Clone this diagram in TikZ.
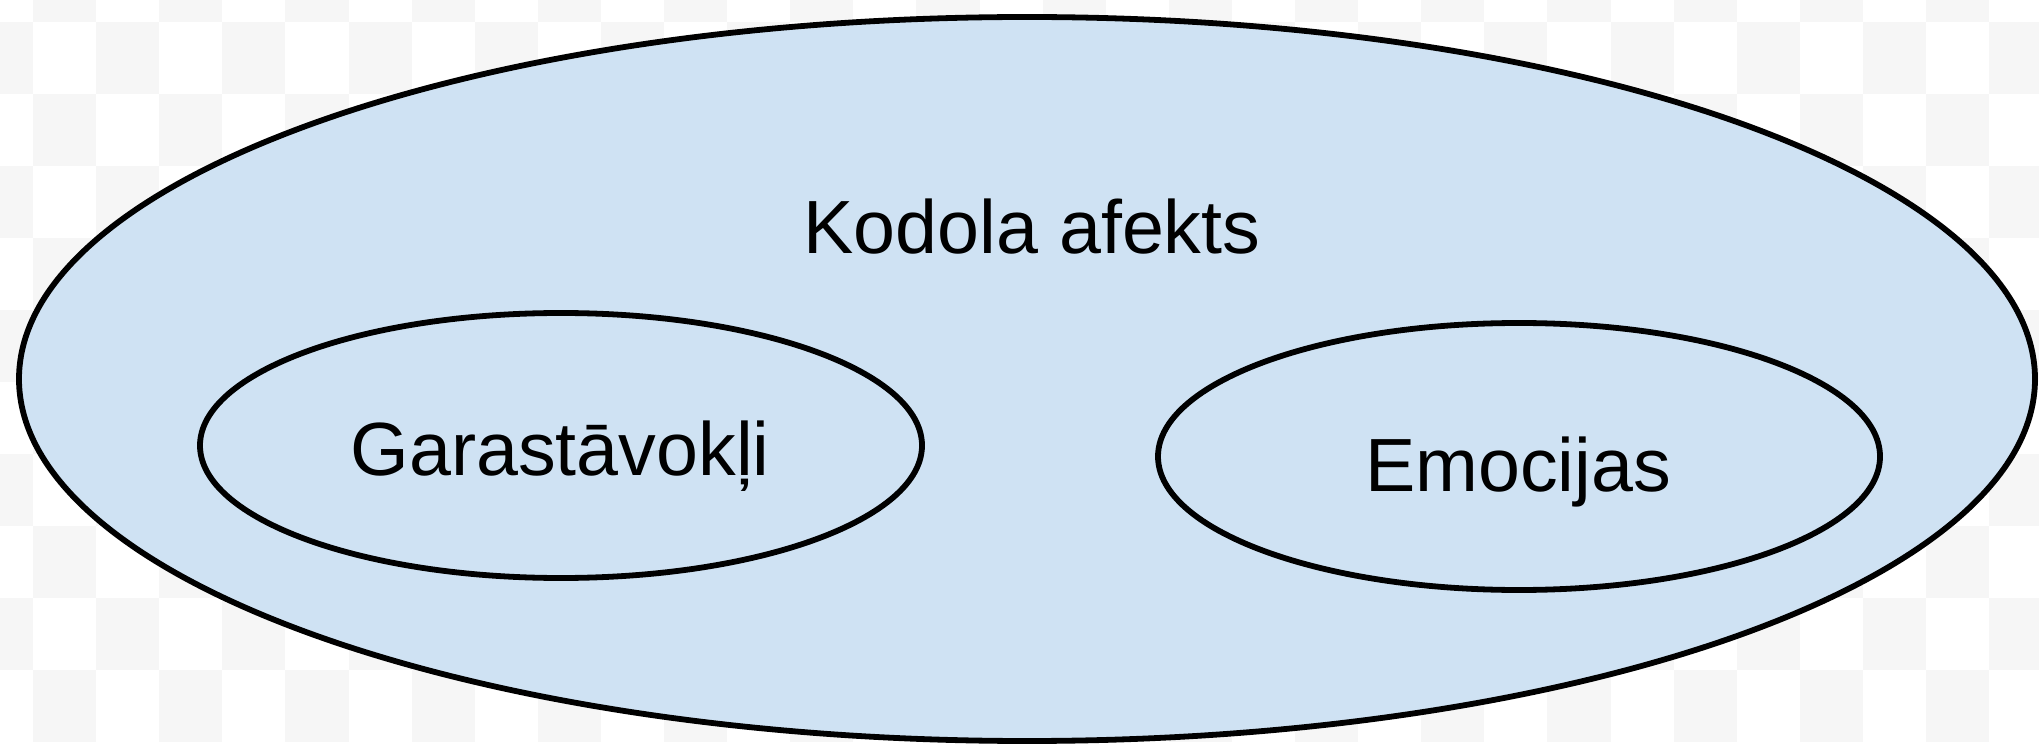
\documentclass[tikz,border=0pt]{standalone}
\usepackage{fontspec}
\setmainfont{Liberation Sans}
\usetikzlibrary{shapes.geometric}
\definecolor{fillblue}{HTML}{CFE2F3}
\definecolor{checkgray}{HTML}{F6F6F6}
\begin{document}
\begin{tikzpicture}[x=0.5pt,y=-0.5pt,
  blob/.style={ellipse, draw=black, line width=2.9pt, fill=fillblue, inner sep=0pt, outer sep=0pt},
  lbl/.style={font=\fontsize{37.7}{45}\selectfont, text=black, inner sep=0pt, anchor=base}]
\useasboundingbox (0,0) rectangle (2039,748);
\begin{scope}
\clip (0,0) rectangle (2039,748);
\fill[white] (0,0) rectangle (2039,748);
\foreach \i in {0,...,32} {
  \foreach \j in {0,...,10} {
    \pgfmathtruncatemacro\chk{mod(\i+\j,2)}
    \ifnum\chk=1
      \fill[checkgray] ({33+63.1*(\i-1)},{22+72*(\j-1)}) rectangle ++(63.1,72);
    \fi
  }
}
\end{scope}
\node[blob, minimum width=1008pt, minimum height=362pt] (outer) at (1027,379) {};
\node[blob, minimum width=361pt, minimum height=132.5pt] (mood) at (561,445.5) {};
\node[blob, minimum width=361pt, minimum height=133.5pt] (emo) at (1519,456.5) {};
\node[lbl] (coretxt) at (1032,254) {Kodola afekts};
\node[lbl] (moodtxt) at (560,475) {Garastāvokļi};
\node[lbl] (emotxt) at (1518,491) {Emocijas};
\end{tikzpicture}
\end{document}
